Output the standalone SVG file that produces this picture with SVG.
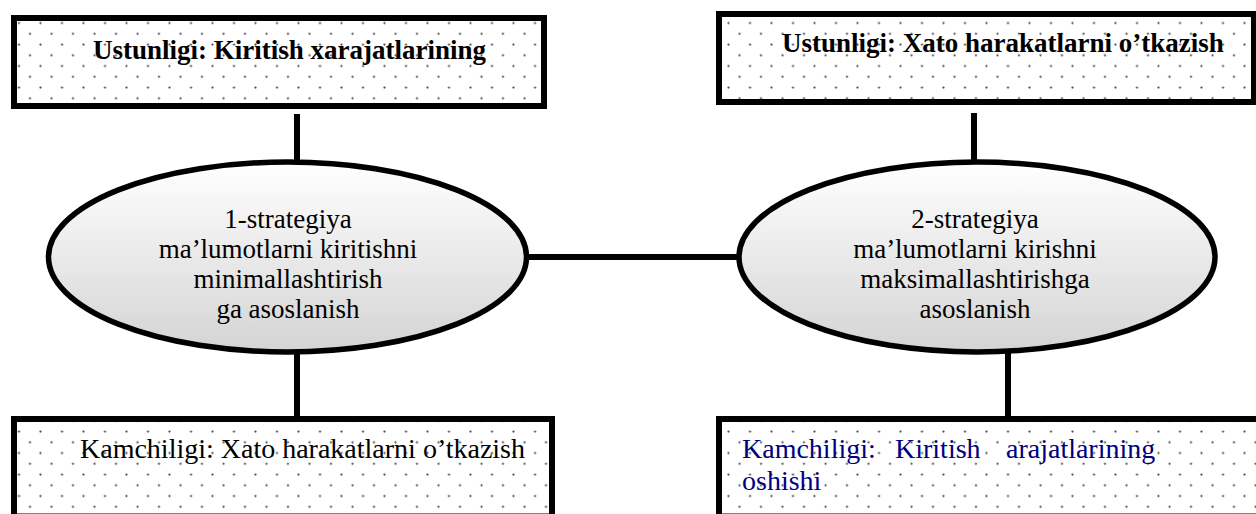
<svg xmlns="http://www.w3.org/2000/svg" width="1256" height="514" viewBox="0 0 1256 514">
  <style>
    .box { fill: url(#dots); stroke: #000; stroke-width: 6; }
    .oval { fill: url(#shade); stroke: #000; stroke-width: 5.5; }
    .link { stroke: #000; stroke-width: 6; fill: none; }
    .txt { font-family: "Liberation Serif", "Times New Roman", serif; font-size: 27px; fill: #000; }
    .big { font-size: 28px; }
    .bold { font-weight: bold; }
    .navy { fill: #000080; }
    .mid { text-anchor: middle; }
  </style>
  <defs>
    <!-- sparse dotted grid used as box fill -->
    <pattern id="dots" patternUnits="userSpaceOnUse" width="21.5" height="21.5">
      <rect width="21.5" height="21.5" fill="#fff"/>
      <circle cx="19" cy="1.5" r="1.1" fill="#444"/>
      <circle cx="8.5" cy="12.25" r="1.1" fill="#444"/>
    </pattern>
    <!-- soft top-to-bottom gray shading of the ovals -->
    <linearGradient id="shade" x1="0" y1="0" x2="0" y2="1">
      <stop offset="0" stop-color="#ffffff"/>
      <stop offset="1" stop-color="#d4d4d4"/>
    </linearGradient>
  </defs>

  <g id="connectors">
    <line class="link" x1="297" y1="114" x2="297" y2="166"/>
    <line class="link" x1="974" y1="113" x2="974" y2="164"/>
    <line class="link" x1="528" y1="257" x2="741" y2="257"/>
    <line class="link" x1="297" y1="352" x2="297" y2="418"/>
    <line class="link" x1="1008" y1="350" x2="1008" y2="418"/>
  </g>

  <g id="adv1">
    <rect class="box" x="14" y="18" width="530" height="88"/>
    <text class="txt bold" x="93" y="59">Ustunligi: Kiritish xarajatlarining</text>
  </g>

  <g id="adv2">
    <rect class="box" x="719" y="14" width="535" height="88"/>
    <text class="txt bold" x="782" y="52">Ustunligi: Xato harakatlarni o’tkazish</text>
  </g>

  <g id="strategy1">
    <ellipse class="oval" cx="287.5" cy="257" rx="239" ry="95"/>
    <text class="txt mid" x="288" y="228">1-strategiya</text>
    <text class="txt mid" x="288" y="258">ma’lumotlarni kiritishni</text>
    <text class="txt mid" x="288" y="288">minimallashtirish</text>
    <text class="txt mid" x="288" y="318">ga asoslanish</text>
  </g>

  <g id="strategy2">
    <ellipse class="oval" cx="977" cy="257" rx="238" ry="95"/>
    <text class="txt mid" x="975" y="228">2-strategiya</text>
    <text class="txt mid" x="975" y="258">ma’lumotlarni kirishni</text>
    <text class="txt mid" x="975" y="288">maksimallashtirishga</text>
    <text class="txt mid" x="975" y="318">asoslanish</text>
  </g>

  <g id="dis1">
    <rect class="box" x="14" y="419" width="538" height="97.5"/>
    <text class="txt big" x="80" y="458">Kamchiligi: Xato harakatlarni o’tkazish</text>
  </g>

  <g id="dis2">
    <rect class="box" x="719" y="419" width="560" height="97.5"/>
    <text class="txt big navy" y="458"><tspan x="742">Kamchiligi:</tspan><tspan x="895">Kiritish</tspan><tspan x="1006">arajatlarining</tspan></text>
    <text class="txt big navy" x="742" y="490">oshishi</text>
  </g>
</svg>
